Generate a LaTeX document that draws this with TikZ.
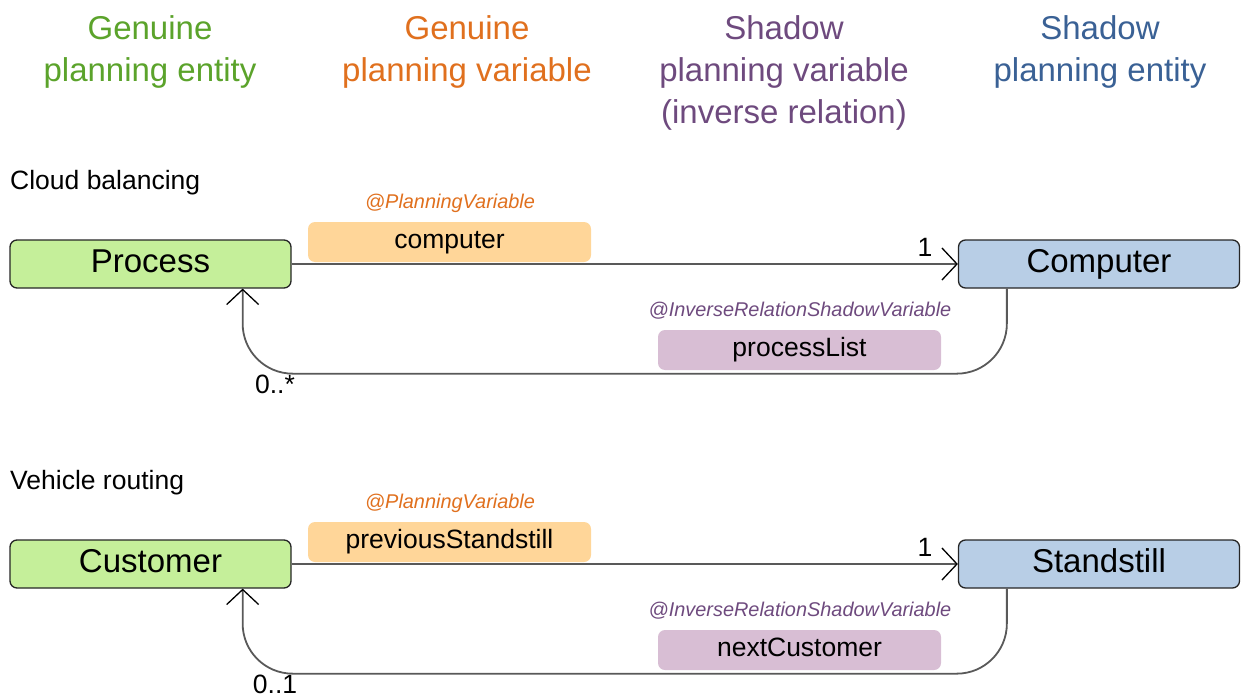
\documentclass[tikz,border=0pt]{standalone}
\usepackage{fontspec}
\setmainfont{Liberation Sans}
\usetikzlibrary{arrows.meta,positioning}
\definecolor{entity-green}{HTML}{5BA32B}
\definecolor{var-orange}{HTML}{E0701E}
\definecolor{shadow-purple}{HTML}{6E4A7E}
\definecolor{shadow-blue}{HTML}{3A6195}
\definecolor{entity-fill}{HTML}{C5EF9A}
\definecolor{shadow-fill}{HTML}{B8CEE6}
\definecolor{var-fill}{HTML}{FFD699}
\definecolor{shadowvar-fill}{HTML}{D8BED4}
\tikzset{
  col-header/.style={align=center, inner sep=0pt, anchor=north,
    font=\fontsize{33}{42}\selectfont},
  row-title/.style={inner sep=0pt, anchor=base west, font=\fontsize{26.5}{32}\selectfont},
  entity-box/.style={draw=black!85, line width=1.3pt, rounded corners=7pt,
    minimum width=281pt, minimum height=48pt, inner sep=0pt,
    text height=23.8pt, text depth=6.9pt,
    font=\fontsize{33}{40}\selectfont},
  var-box/.style={rounded corners=7pt, minimum width=283pt, minimum height=40pt,
    inner sep=0pt, text height=19pt, text depth=5.6pt,
    font=\fontsize{26.5}{32}\selectfont},
  annot/.style={inner sep=0pt, font=\fontsize{19.9}{24}\selectfont\itshape},
  mult/.style={inner sep=0pt, font=\fontsize{26.5}{32}\selectfont},
  link/.style={draw=black!65, line width=1.8pt,
    -{Straight Barb[length=15pt, width=32pt, line width=1.3pt, color=black]}}
}

\begin{document}
\begin{tikzpicture}[x=1pt, y=-1pt]
  \useasboundingbox (0,0) rectangle (1242,698);

  % Column headers
  \node[col-header, text=entity-green] (hdr-entity) at (150,15) {Genuine\\planning entity};
  \node[col-header, text=var-orange] (hdr-var) at (467,15) {Genuine\\planning variable};
  \node[col-header, text=shadow-purple] (hdr-shadowvar) at (784,15)
    {Shadow\\planning variable\\(inverse relation)};
  \node[col-header, text=shadow-blue] (hdr-shadowent) at (1100,15) {Shadow\\planning entity};

  % One row per example (rows are 300 apart)
  \foreach \r/\y/\title/\ent/\var/\sent/\shad/\many in {
      cloud/0/Cloud balancing/Process/computer/Computer/processList/0..*,
      vrp/300/Vehicle routing/Customer/previousStandstill/Standstill/nextCustomer/0..1} {
    \node[row-title] (title-\r) at (10,{189+\y}) {\title};
    \node[entity-box, fill=entity-fill] (ent-\r) at (150.5,{264+\y}) {\ent};
    \node[entity-box, fill=shadow-fill] (sent-\r) at (1099,{264+\y}) {\sent};

    % genuine variable: entity -> shadow entity
    \draw[link] (ent-\r.east) -- (sent-\r.west);
    % inverse relation back to the entity
    \draw[link, rounded corners=50pt] ([xshift=49pt]sent-\r.south west) -- ++(0,85)
      -| ([xshift=-49pt]ent-\r.south east);

    \node[var-box, fill=var-fill] (var-\r) at (449.5,{242+\y}) {\var};
    \node[annot, text=var-orange] (var-ann-\r) at (450,{203+\y}) {@PlanningVariable};
    \node[var-box, fill=shadowvar-fill] (shad-\r) at (799.5,{350+\y}) {\shad};
    \node[annot, text=shadow-purple] (shad-ann-\r) at (800,{311+\y})
      {@InverseRelationShadowVariable};

    \node[mult] (one-\r) at (925,{247+\y}) {1};
    \node[mult] (many-\r) at (275,{384+\y}) {\many};
  }
\end{tikzpicture}
\end{document}
